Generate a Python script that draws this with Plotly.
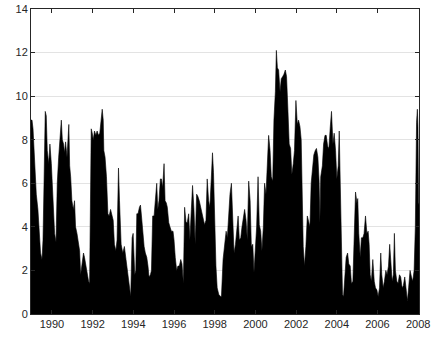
import plotly.graph_objects as go

# decimal year of each observation
t_year = [
    1988.96, 1989.02, 1989.07, 1989.15, 1989.23, 1989.31, 1989.40, 1989.44, 1989.51, 1989.56,
    1989.61, 1989.64, 1989.67, 1989.72, 1989.77, 1989.84, 1989.90, 1989.97, 1990.02, 1990.07,
    1990.13, 1990.20, 1990.26, 1990.33, 1990.39, 1990.46, 1990.51, 1990.57, 1990.62, 1990.67,
    1990.74, 1990.78, 1990.83, 1990.87, 1990.92, 1990.98, 1991.05, 1991.11, 1991.16, 1991.23,
    1991.27, 1991.36, 1991.41, 1991.47, 1991.55, 1991.60, 1991.67, 1991.73, 1991.80, 1991.85,
    1991.90, 1991.93, 1991.98, 1992.03, 1992.09, 1992.16, 1992.22, 1992.29, 1992.35, 1992.42,
    1992.47, 1992.52, 1992.55, 1992.61, 1992.68, 1992.75, 1992.81, 1992.88, 1992.94, 1993.01,
    1993.07, 1993.14, 1993.20, 1993.27, 1993.32, 1993.40, 1993.48, 1993.56, 1993.64, 1993.73,
    1993.83, 1993.87, 1993.94, 1993.99, 1994.07, 1994.12, 1994.17, 1994.23, 1994.30, 1994.35,
    1994.40, 1994.48, 1994.53, 1994.59, 1994.66, 1994.72, 1994.77, 1994.84, 1994.89, 1994.95,
    1995.02, 1995.08, 1995.15, 1995.20, 1995.26, 1995.33, 1995.38, 1995.44, 1995.51, 1995.56,
    1995.62, 1995.67, 1995.74, 1995.80, 1995.87, 1995.95, 1996.00, 1996.06, 1996.13, 1996.19,
    1996.26, 1996.33, 1996.39, 1996.46, 1996.52, 1996.59, 1996.65, 1996.72, 1996.78, 1996.85,
    1996.91, 1996.98, 1997.04, 1997.11, 1997.17, 1997.24, 1997.31, 1997.37, 1997.44, 1997.50,
    1997.57, 1997.63, 1997.70, 1997.76, 1997.83, 1997.89, 1997.94, 1997.99, 1998.06, 1998.12,
    1998.20, 1998.29, 1998.33, 1998.41, 1998.49, 1998.56, 1998.62, 1998.69, 1998.75, 1998.82,
    1998.89, 1998.95, 1999.02, 1999.08, 1999.15, 1999.21, 1999.28, 1999.34, 1999.41, 1999.47,
    1999.54, 1999.60, 1999.67, 1999.74, 1999.80, 1999.87, 1999.93, 2000.00, 2000.06, 2000.13,
    2000.19, 2000.26, 2000.32, 2000.39, 2000.45, 2000.52, 2000.58, 2000.65, 2000.72, 2000.78,
    2000.85, 2000.91, 2000.98, 2001.03, 2001.08, 2001.14, 2001.21, 2001.27, 2001.34, 2001.40,
    2001.47, 2001.53, 2001.60, 2001.66, 2001.73, 2001.79, 2001.86, 2001.92, 2001.99, 2002.06,
    2002.12, 2002.19, 2002.25, 2002.30, 2002.35, 2002.41, 2002.48, 2002.55, 2002.61, 2002.68,
    2002.74, 2002.81, 2002.87, 2002.94, 2003.00, 2003.07, 2003.13, 2003.17, 2003.21, 2003.29,
    2003.35, 2003.42, 2003.48, 2003.55, 2003.61, 2003.68, 2003.74, 2003.81, 2003.87, 2003.94,
    2004.00, 2004.07, 2004.12, 2004.17, 2004.23, 2004.28, 2004.33, 2004.40, 2004.46, 2004.53,
    2004.59, 2004.66, 2004.72, 2004.79, 2004.85, 2004.92, 2004.99, 2005.03, 2005.08, 2005.15,
    2005.21, 2005.28, 2005.34, 2005.41, 2005.48, 2005.54, 2005.59, 2005.64, 2005.70, 2005.77,
    2005.84, 2005.90, 2005.97, 2006.03, 2006.10, 2006.16, 2006.21, 2006.28, 2006.34, 2006.41,
    2006.47, 2006.54, 2006.60, 2006.65, 2006.72, 2006.78, 2006.83, 2006.88, 2006.95, 2007.01,
    2007.08, 2007.14, 2007.21, 2007.27, 2007.34, 2007.40, 2007.47, 2007.53, 2007.60, 2007.67,
    2007.73, 2007.80, 2007.86, 2007.92, 2007.96, 2007.99, 2008.02, 2008.04,
]

level = [
    8.9, 8.9, 8.5, 6.8, 5.5, 4.8, 3.4, 2.8, 2.5, 3.4,
    6.0, 7.8, 9.3, 9.1, 7.5, 6.9, 7.8, 6.9, 5.8, 4.6,
    3.7, 3.3, 6.0, 7.2, 8.0, 8.9, 8.0, 7.8, 7.4, 7.9,
    7.2, 8.2, 8.7, 6.8, 6.3, 5.2, 4.8, 5.2, 4.0, 3.7,
    3.5, 2.9, 1.8, 2.3, 2.8, 2.6, 2.2, 1.8, 1.5, 1.4,
    6.3, 8.5, 8.3, 8.0, 8.4, 8.2, 8.4, 8.2, 8.3, 9.2,
    9.4, 8.9, 7.5, 7.2, 6.3, 4.6, 4.5, 4.8, 4.6, 4.3,
    3.2, 2.9, 3.4, 6.7, 5.2, 3.2, 2.8, 3.1, 2.5, 1.8,
    1.0, 0.8, 3.5, 3.7, 1.8, 2.0, 4.6, 4.6, 4.9, 5.0,
    4.5, 3.4, 3.1, 2.8, 2.6, 2.2, 1.7, 1.8, 2.0, 4.5,
    4.5, 5.2, 6.0, 4.8, 5.2, 6.2, 6.2, 5.8, 6.9, 5.2,
    5.1, 4.9, 4.2, 4.0, 3.8, 3.8, 3.4, 2.6, 2.0, 2.2,
    2.2, 2.5, 2.3, 1.4, 4.9, 4.2, 4.2, 4.6, 3.4, 4.8,
    5.9, 4.8, 3.2, 5.5, 5.4, 5.2, 4.9, 4.8, 4.5, 4.1,
    4.3, 6.2, 5.2, 4.9, 6.2, 7.4, 6.5, 4.2, 2.2, 1.2,
    0.9, 0.8, 0.8, 2.5, 3.4, 3.8, 3.5, 4.6, 5.5, 6.0,
    3.7, 2.8, 3.2, 3.8, 4.5, 3.4, 3.5, 4.0, 4.6, 4.8,
    4.3, 3.4, 6.1, 5.2, 3.1, 3.2, 1.9, 2.8, 4.0, 6.3,
    4.1, 3.8, 2.9, 4.0, 6.0, 5.5, 6.9, 8.2, 7.5, 6.3,
    6.1, 8.9, 10.2, 12.1, 11.3, 11.2, 10.2, 10.8, 10.9, 11.0,
    11.2, 10.9, 9.3, 7.8, 7.6, 6.4, 6.9, 7.5, 9.8, 8.7,
    8.9, 8.6, 8.0, 5.7, 3.1, 2.2, 3.1, 4.5, 4.3, 4.0,
    6.0, 6.7, 7.3, 7.5, 7.6, 7.2, 6.1, 4.2, 6.3, 6.8,
    7.8, 8.2, 8.2, 7.7, 7.6, 8.6, 9.3, 7.8, 8.3, 7.5,
    6.2, 6.8, 8.4, 6.0, 2.2, 0.9, 0.8, 1.8, 2.6, 2.8,
    2.3, 2.2, 1.4, 1.5, 3.7, 5.6, 5.1, 5.3, 3.7, 2.6,
    3.5, 3.5, 3.7, 4.5, 3.7, 3.8, 3.2, 1.8, 1.5, 2.5,
    1.5, 1.2, 1.1, 0.8, 1.2, 2.8, 1.8, 1.2, 1.5, 2.0,
    1.8, 2.2, 3.2, 2.2, 1.5, 1.8, 3.7, 2.0, 1.5, 1.4,
    1.8, 1.7, 1.2, 1.3, 1.7, 1.2, 0.6, 1.2, 2.0, 1.7,
    1.5, 2.0, 4.0, 8.8, 9.4, 8.6, 5.0, 5.1,
]

x_ticks = [1990, 1992, 1994, 1996, 1998, 2000, 2002, 2004, 2006, 2008]
y_ticks = [0, 2, 4, 6, 8, 10, 12, 14]

fig = go.Figure(go.Scatter(
    x=t_year, y=level, mode="lines", fill="tozeroy",
    line=dict(color="black", width=0.6), fillcolor="black",
    hoverinfo="skip", showlegend=False,
))

axis_common = dict(
    showline=True, linecolor="#262626", linewidth=1, mirror="ticks",
    ticks="inside", ticklen=4, tickcolor="#262626", zeroline=False,
    automargin=False,
    tickfont=dict(family="Liberation Sans, Arial, sans-serif", size=11, color="#262626"),
)

fig.update_layout(
    width=431, height=341,
    margin=dict(l=31, r=12, t=9, b=27, autoexpand=False),
    paper_bgcolor="white", plot_bgcolor="white",
    xaxis=dict(range=[1988.97, 2008.04], tickvals=x_ticks,
               ticktext=[str(v) for v in x_ticks], showgrid=False, **axis_common),
    yaxis=dict(range=[0, 14], tickvals=y_ticks, showgrid=True,
               gridcolor="#e3e3e3", gridwidth=1, **axis_common),
)

fig.write_html(
    "out.html",
    config={"displayModeBar": False},
    post_script="document.body.style.margin='0';document.body.style.overflow='hidden';",
)
